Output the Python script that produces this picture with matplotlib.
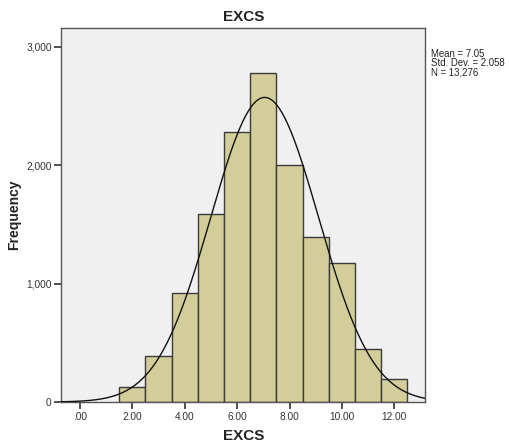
import numpy as np
import matplotlib
matplotlib.use("Agg")
import matplotlib.pyplot as plt

plt.rcParams['font.family'] = ['Liberation Sans', 'DejaVu Sans']

# Histogram of EXCS scores (bin centres and counts)
bin_centers = [2, 3, 4, 5, 6, 7, 8, 9, 10, 11, 12]
counts = [130, 385, 920, 1585, 2280, 2780, 2005, 1395, 1175, 445, 195]
mean_val = 7.05
std_val = 2.058
n_total = 13276

x_ticks = [0, 2, 4, 6, 8, 10, 12]
x_tick_labels = ['.00', '2.00', '4.00', '6.00', '8.00', '10.00', '12.00']
y_ticks = [0, 1000, 2000, 3000]
y_tick_labels = ['0', '1,000', '2,000', '3,000']

fig = plt.figure(figsize=(5.10, 4.48), dpi=100)
ax = fig.add_axes([0.1202, 0.1027, 0.7141, 0.8348])
ax.set_facecolor('#F0F0F0')

ax.bar(bin_centers, counts, width=1.0, color='#D3CE99',
       edgecolor='#3A3A3A', linewidth=1.0, zorder=2)

# Fitted normal curve scaled to counts (bin width 1)
xs = np.linspace(-0.714, 13.19, 400)
ys = n_total * 1.0 / (std_val * np.sqrt(2 * np.pi)) * np.exp(-0.5 * ((xs - mean_val) / std_val) ** 2)
ax.plot(xs, ys, color='#111111', linewidth=1.0, zorder=3)

ax.set_xlim(-0.714, 13.19)
ax.set_ylim(0, 3160)
ax.set_xticks(x_ticks)
ax.set_xticklabels(x_tick_labels)
ax.set_yticks(y_ticks)
ax.set_yticklabels(y_tick_labels)
ax.tick_params(axis='both', direction='out', length=5, width=1.2,
               color='#333333', labelsize=7.3, labelcolor='#333333', pad=2)

for side in ['left', 'bottom', 'top', 'right']:
    ax.spines[side].set_color('#555555')
    ax.spines[side].set_linewidth(1.0)

ax.set_title('EXCS', fontsize=11, fontweight='bold', color='#222222', pad=5)
ax.set_xlabel('EXCS', fontsize=11, fontweight='bold', color='#222222')
ax.set_ylabel('Frequency', fontsize=10, fontweight='bold', color='#222222')
ax.xaxis.set_label_coords(0.5, -0.073)
ax.yaxis.set_label_coords(-0.111, 0.5)

fig.text(431 / 510, 1 - 63 / 448,
         'Mean = 7.05\nStd. Dev. = 2.058\nN = 13,276',
         fontsize=6.9, color='#222222', va='center', ha='left', linespacing=0.92)

fig.savefig('out.png', dpi=100, facecolor='white')
